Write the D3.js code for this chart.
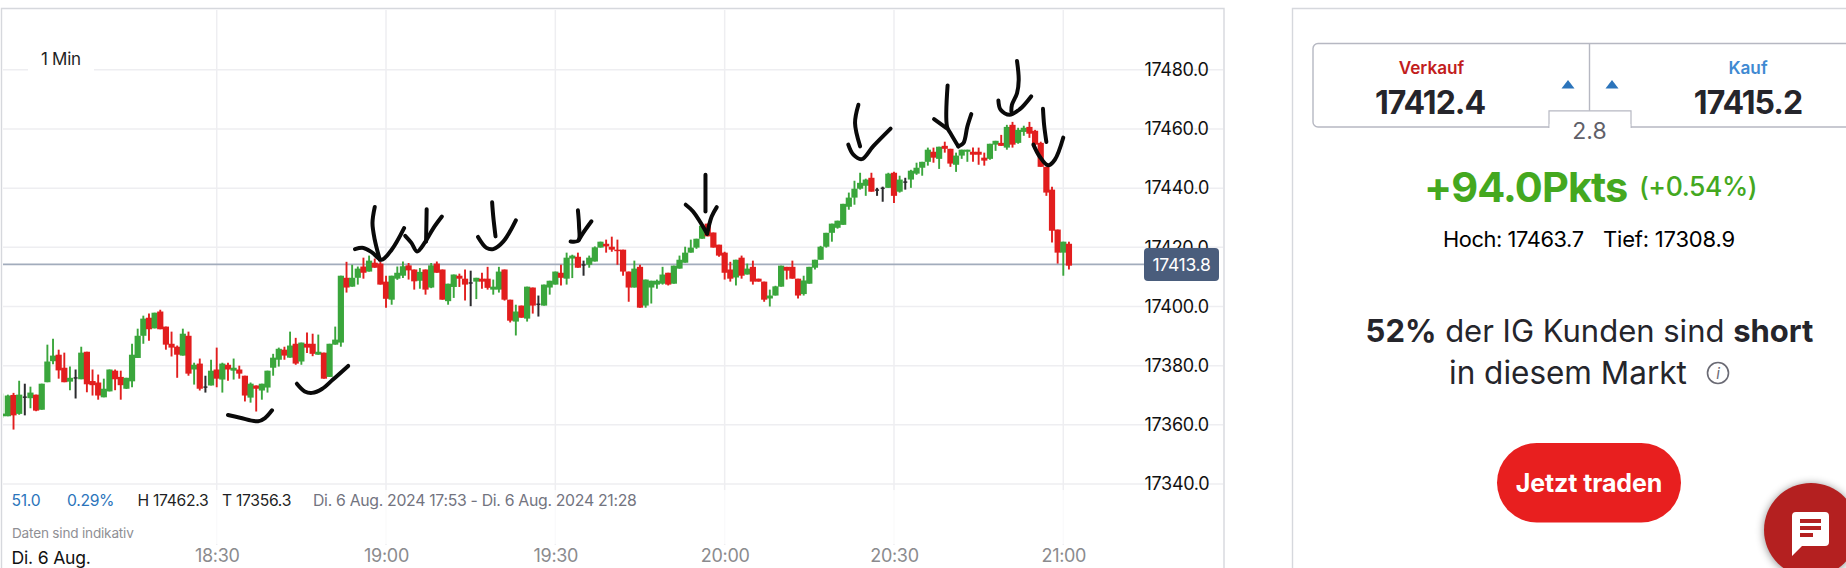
<!DOCTYPE html>
<html lang="de">
<head>
<meta charset="utf-8">
<title>1 Min Chart</title>
<script src="https://cdn.jsdelivr.net/npm/d3@7/dist/d3.min.js"></script>
<style>
html,body{margin:0;padding:0;background:#fff;overflow:hidden}
svg{display:block}
text{font-family:Inter,"Noto Sans",sans-serif}
</style>
</head>
<body>
<div id="chart"></div>
<script>
// ---- data -----------------------------------------------------------------
const firstCandle = "17:52";
const opens = [
17362.9,17362.9,17370.1,17363.7,17369.6,17369,17370.2,17365.1,17374.4,17381.5,
17383.7,17379.3,17374.6,17376.1,17375.4,17384.7,17374.8,17374.3,17369.3,17371.3,
17378.3,17376.2,17372.2,17374.7,17382.6,17390.1,17396.2,17392.6,17398.3,17393.2,
17387.4,17386.4,17383.4,17390.1,17378.7,17380.7,17373,17373.3,
17378.7,17375.3,17380.3,17378.3,17378.7,17376.6,17369.2,17373.3,17371.6,17372.6,
17379.3,17382,17385.4,17382.7,17387.4,17381.4,17387.4,17387.4,17383.7,17384.4,
17376.2,17387.1,17387.8,17409.7,17406.7,17409.7,17413.5,17411.8,17414.8,17414.5,
17408.4,17402.3,17409.4,
17410.4,17413.9,17412.5,17408.7,17412.5,17406.4,17414.5,17412.5,17401.8,17406.6,
17410.4,17409.4,17408.2,17408.4,17409.4,17409.4,17405.7,17405.7,17412.5,17402.3,
17394.9,17400.3,17395.9,17406.4,17401,17400.3,17406.4,17407.4,17411.4,17409.4,
17416.2,17416.8,17414.3,17414.1,17415.2,17419.9,17421.2,17420.2,17419.2,17419.2,
17411.8,17406.4,17413.4,17400.3,17406.4,17407.4,17407.7,17411.4,17407.7,17412.8,
17414.8,17418.2,17419.9,17422.9,17428,17425,17420.9,17418.2,
17412.5,17409.8,17416.5,17410.8,17413.4,17409.4,17408.4,17402.7,17403.7,17406.7,
17413.4,17413.4,17409.4,17404.2,17407.7,17413.1,17415.8,17420.2,17424.9,17426.6,
17427.6,17433.7,17436.8,17439.8,17440.8,17443.5,17439.6,17440.2,17440.1,17445.2,
17438.8,17442.3,17442.9,17444.9,17446.9,17448.9,17452.3,17449.9,17454.3,17453.3,
17447.9,17451,17452.3,17452.3,17452.3,17450.3,17449.9,17454.7,17455.3,17453.7,
17461.4,17455.3,17459,17460.7,17459.4,17455.3,17447.2,17439.5,17426,17418.2,17421.2];
const highs = [
17370.6,17370.2,17370.8,17374.9,17373.9,17372.9,17370.2,17373.9,17387.1,17389.1,
17385.4,17384.4,17379.7,17378.7,17386.4,17384.7,17378.7,17377,17375.6,17378.7,
17378.7,17378.3,17375.9,17387.4,17392.5,17396.9,17397.6,17397.9,17398.9,17393.2,
17391.5,17386.8,17392.5,17391.5,17381,17382.4,17376.6,17382,
17386.1,17381,17381,17382.4,17380,17376.6,17374.3,17373.3,17373.9,17378.3,
17384,17386.1,17386.4,17391.5,17389.4,17387.8,17391.2,17390.8,17390.5,17384.4,
17387.4,17393.2,17410.4,17415.1,17414.1,17413.5,17416.5,17417.2,17416.2,17415.1,
17410.4,17410.4,17413.5,
17415.2,17414.7,17412.5,17413,17412.5,17414.7,17415.2,17412.5,17407.7,17410.8,
17411.1,17412.5,17412.1,17409.7,17411.4,17413.4,17409.1,17413.4,17412.5,17402.3,
17400.6,17400.3,17406.7,17406.4,17403.7,17407.4,17408.7,17411.8,17414.1,17418.2,
17417.5,17418.2,17415.5,17417.2,17420.3,17421.9,17422.6,17423.6,17422.6,17419.2,
17411.8,17415.5,17414.1,17409.1,17408.7,17409.1,17413.4,17411.4,17413.8,17417.2,
17420.2,17422.6,17422.9,17427.3,17428,17425,17420.9,17418.5,
17415.1,17415.8,17417.2,17414.5,17415.5,17409.4,17408.4,17405.7,17407,17413.8,
17413.4,17415.5,17409.4,17410.4,17413.4,17415.8,17420.5,17424.9,17428,17429,
17434.7,17438.5,17442.5,17445.2,17443.2,17445.2,17440.1,17440.5,17445.2,17445.5,
17444.2,17443.5,17446.2,17448.6,17448.9,17453.7,17453.7,17454,17455.7,17453.3,
17452,17453,17453,17453.7,17453.7,17452,17455,17456,17458,17461.4,
17462.4,17460.4,17461.1,17462.4,17459.7,17455.7,17447.2,17440.5,17426,17421.9,17421.9];
const lows = [
17362.3,17362.9,17358.4,17363.4,17363.2,17365.6,17364.6,17365.1,17374.4,17380.5,
17375.6,17374.4,17371.7,17368.9,17375.4,17371,17369.9,17368.5,17369.3,17371.3,
17371.7,17368.5,17372.1,17372.7,17382.6,17387.4,17388.4,17392.6,17392.3,17385.4,
17383.1,17375.9,17383.4,17376.6,17373.6,17371.6,17370.9,17373.3,
17372.7,17370.9,17374.9,17375.3,17375.6,17367.9,17367.5,17364.5,17368.5,17370.9,
17376.6,17379.7,17382,17382.7,17380.3,17380.3,17384.3,17383.2,17383.7,17375.6,
17376.2,17387.1,17386.4,17404.7,17406.7,17407.4,17409.4,17411.8,17413.1,17407.4,
17399.6,17400.6,17409,
17409.6,17409.1,17405.7,17406,17404,17406.2,17411.4,17402.3,17400.6,17402.9,
17406.6,17402,17400.1,17402.5,17406,17405.7,17404,17404.7,17402,17394.6,
17390.2,17396.2,17394.9,17397.6,17396.6,17400.3,17404,17407.4,17407.1,17407.4,
17409.6,17413.1,17410.4,17413.1,17415.2,17419.9,17418.2,17418.5,17414.1,17410.4,
17401.6,17406.4,17399.6,17399.6,17401,17406,17407.4,17407.1,17407.7,17412.8,
17414.8,17418.2,17419.5,17422.9,17423.7,17419.9,17416.8,17409.1,
17408.4,17407.1,17409.4,17410.8,17407.4,17408.4,17401.6,17400,17403.7,17406.7,
17409.1,17409.4,17402.7,17403.7,17407.7,17412.5,17415.8,17419.9,17421.9,17426.3,
17427.6,17432.7,17434.4,17439.5,17437.4,17438.8,17437.4,17435.4,17440.1,17435,
17438.5,17439.5,17440.1,17444.5,17444.2,17447.6,17448.6,17446.5,17452,17447.2,
17445.5,17449.9,17448.9,17448.9,17447.9,17447.6,17449.6,17452.6,17454.3,17453,
17453.7,17455,17457.7,17457,17454.3,17447.2,17437.4,17421.6,17414.5,17410.4,17412.5];
const closes = [
17363.8,17369.9,17363.2,17370.2,17369.6,17370.9,17364.8,17373.9,17381.4,17383.4,
17378.4,17374.4,17375.9,17376.1,17384.4,17373.7,17373.4,17369.9,17372.2,17378.7,
17375.4,17373.4,17375.9,17383.7,17390.1,17395.9,17392.3,17397.9,17392.3,17387.1,
17386.1,17383.7,17390.8,17377.3,17380.3,17372.2,17373,17378.3,
17375.6,17380.7,17378.7,17379.3,17377.3,17369.9,17373.9,17372.2,17373.9,17378.3,
17382.7,17385.7,17383.4,17386.8,17380.7,17387.8,17386.1,17384,17384.7,17375.6,
17387.4,17388.8,17410.4,17406.4,17409.7,17412.8,17411.4,17415.5,17413.1,17407.4,
17402.6,17410.4,17411.4,
17413.6,17412.2,17408.5,17411.7,17405.7,17413.9,17411.4,17402.3,17407.7,17410.8,
17409.4,17407.4,17408.2,17409.7,17408.4,17406.3,17406.7,17411.8,17402.3,17395.2,
17398.3,17396.2,17406.7,17400.3,17401,17407.4,17408.7,17411.8,17409.7,17416.5,
17417.2,17413.1,17414.3,17416.5,17420,17421.9,17420.3,17419.2,17418.9,17411.8,
17406.4,17412.8,17399.6,17409.1,17408.7,17408.7,17410.8,17407.4,17413.8,17415.8,
17418.2,17419.9,17422.9,17427.3,17423.7,17419.9,17417.2,17411.4,
17409.4,17415.8,17410.4,17412.8,17408.4,17408.4,17402.3,17403.7,17406.8,17413.8,
17412.1,17409.4,17403.7,17408.8,17413.4,17415.8,17420.2,17424.9,17428,17429,
17434.7,17436.8,17439.8,17441.8,17442.9,17438.8,17439.6,17440.2,17444.9,17437.4,
17442.9,17442.3,17445.9,17446.9,17448.9,17453,17450.3,17454,17453.3,17448.3,
17451,17453,17453,17451.3,17451.3,17449.3,17455,17456,17454.3,17460.7,
17454.7,17459.7,17460.4,17458.4,17454.7,17447.2,17438.5,17425.6,17418.2,17421.9,17413.8];

const priceTicks = [17340,17360,17380,17400,17420,17440,17460,17480];
const timeTicks = ["18:30","19:00","19:30","20:00","20:30","21:00"];
const lastPrice = 17414.2;
const lastPriceLabel = "17413.8";
const intervalLabel = "1 Min";
const statValues = {points:"51.0", percent:"0.29%", high:"H 17462.3", low:"T 17356.3"};
const statRange = "Di. 6 Aug. 2024 17:53 - Di. 6 Aug. 2024 21:28";

// hand-drawn ink strokes over the chart: [minutes after 18:30, price]
const inkStrokes = [
 [[2,17363.3],[4.13,17362.4],[7.32,17361.2],[8.56,17362.3],[9.8,17364.9]],
 [[14.2,17373.9],[15.6,17371.3],[16.9,17370.8],[18.65,17372.1],[20.6,17375.3],[23.3,17379.9]],
 [[28,17433.6],[27.6,17428.2],[28,17422.6],[28.9,17415.8]],
 [[24.5,17419.4],[26,17419.8],[27.5,17418.3],[29.2,17415.8],[31,17419.2],[33.2,17426.5]],
 [[33.4,17423.9],[34.5,17421.5],[35.5,17418.6],[36.9,17421.7],[38.4,17426.5],[39.9,17430.4]],
 [[37.2,17432.9],[37.1,17422]],
 [[48.8,17435.2],[49,17430.4],[49.4,17423.7]],
 [[46.3,17423.5],[47.8,17419.8],[49,17419.4],[50.8,17422],[53,17429.1]],
 [[64,17432.5],[64.2,17427.1],[64.1,17422.3],[62.7,17422]],
 [[64.1,17422.3],[64.9,17424.8],[66.4,17428.8]],
 [[86.6,17444.5],[86.6,17432.1]],
 [[83.1,17434.4],[84.4,17432.1],[86.9,17424.6]],
 [[86.9,17424.6],[87.7,17430.4],[88.6,17433.6]],
 [[113.7,17468.2],[113.1,17462],[114,17454.1]],
 [[111.9,17454.7],[112.8,17451.3],[114.3,17449.8],[116.3,17454.1],[119.4,17460.1]],
 [[129.5,17474.7],[129.4,17460.8],[130,17458.6],[131.4,17454.1]],
 [[127.1,17463.3],[129.3,17460.3]],
 [[131.4,17454.1],[132.3,17455.2],[133,17460.8],[133.7,17465]],
 [[141.8,17483],[142.1,17476.6],[141.8,17472.1],[140.9,17468.2],[140.8,17465.9]],
 [[138.5,17469.6],[138.9,17466.5],[140.5,17464.8],[142.3,17466.7],[144.3,17471]],
 [[146.4,17466.8],[146.6,17461.4],[147,17455.6]],
 [[144.7,17454.7],[145.8,17450.7],[147.3,17447.7],[148.5,17449.6],[150,17457.1]]
];

// ---- page ------------------------------------------------------------------
const W = 1846, H = 568;
const GREEN = "#3aa63c", RED = "#e21e1e", DOJI = "#2b2b2e";
const svg = d3.select("#chart").append("svg").attr("width", W).attr("height", H);
const parse = d3.timeParse("%H:%M");
const at = s => parse(s);
const plusMin = (d, m) => new Date(d.getTime() + m * 60000);

const x = d3.scaleTime().domain([at("18:30"), at("21:00")]).range([216.7, 1063.3]);
const y = d3.scaleLinear().domain([17340, 17480]).range([484, 69.8]);

// frames
svg.append("path").attr("d", "M1.5,568V8.5H1224V568").attr("fill", "none").attr("stroke", "#d6d8dd").attr("stroke-width", 1.4);
svg.append("path").attr("d", "M1846,8.5H1292.5V568").attr("fill", "none").attr("stroke", "#d6d8dd").attr("stroke-width", 1.4);

svg.append("defs").append("clipPath").attr("id", "plot").append("rect")
  .attr("x", 3).attr("y", 9).attr("width", 1220).attr("height", 540);

// grid
const grid = svg.append("g").attr("stroke", "#eeeef1").attr("stroke-width", 1.5);
grid.selectAll("line.h").data(priceTicks).join("line").attr("class", "h")
  .attr("x1", 3).attr("x2", 1223).attr("y1", d => y(d)).attr("y2", d => y(d));
grid.selectAll("line.v").data(timeTicks).join("line").attr("class", "v")
  .attr("x1", d => x(at(d))).attr("x2", d => x(at(d))).attr("y1", 10).attr("y2", 545);

// white strip behind interval label and stats
svg.append("rect").attr("x", 28).attr("y", 48).attr("width", 66).attr("height", 23.5).attr("fill", "#fff");
svg.append("rect").attr("x", 3).attr("y", 490).attr("width", 1140).attr("height", 54).attr("fill", "#fff").attr("opacity", .72);

// last price line
svg.append("line").attr("x1", 3).attr("x2", 1150).attr("y1", y(lastPrice)).attr("y2", y(lastPrice))
  .attr("stroke", "#a2acbc").attr("stroke-width", 1.7);

// candles
const candles = opens.map((o, i) => ({t: plusMin(at(firstCandle), i), o, h: highs[i], l: lows[i], c: closes[i]}));
const color = d => d.c > d.o ? GREEN : d.c < d.o ? RED : DOJI;
const g = svg.append("g").attr("clip-path", "url(#plot)");
g.selectAll("line.wick").data(candles).join("line").attr("class", "wick")
  .attr("x1", d => x(d.t)).attr("x2", d => x(d.t))
  .attr("y1", d => y(d.h)).attr("y2", d => y(d.l))
  .attr("stroke", color).attr("stroke-width", d => d.c === d.o ? 2 : 1.9);
g.selectAll("rect.body").data(candles).join("rect").attr("class", "body")
  .attr("x", d => x(d.t) - (d.c === d.o ? 2 : 3.1)).attr("width", d => d.c === d.o ? 4 : 6.2)
  .attr("y", d => y(Math.max(d.o, d.c)))
  .attr("height", d => Math.max(1.5, y(Math.min(d.o, d.c)) - y(Math.max(d.o, d.c))))
  .attr("fill", color);

// axes
const yAxis = d3.axisRight(y).tickValues(priceTicks.slice(1).reverse().concat([17340])).tickSize(0).tickPadding(0)
  .tickFormat(d3.format(".1f"));
const ya = svg.append("g").attr("transform", "translate(1144.5,0)").call(yAxis);
ya.select(".domain").remove();
ya.selectAll("text").attr("font-size", 18).attr("fill", "#111").attr("font-family", "Inter").attr("letter-spacing", -0.3);

const xAxis = d3.axisBottom(x).tickValues(timeTicks.map(at)).tickSize(0).tickPadding(0).tickFormat(d3.timeFormat("%H:%M"));
const xa = svg.append("g").attr("transform", "translate(0,549)").call(xAxis);
xa.select(".domain").remove();
xa.selectAll("text").attr("font-size", 18).attr("fill", "#8b8b8e").attr("font-family", "Inter").attr("letter-spacing", -0.3);

// last price tag
svg.append("rect").attr("x", 1144).attr("y", 248).attr("width", 75).attr("height", 33).attr("rx", 4).attr("fill", "#4a5d7c");
svg.append("text").attr("x", 1181.5).attr("y", 271).attr("text-anchor", "middle").attr("fill", "#fff")
  .attr("font-size", 17.5).attr("letter-spacing", -0.3).text(lastPriceLabel);

// ink
const ink = d3.line().x(p => x(plusMin(at("18:30"), p[0]))).y(p => y(p[1])).curve(d3.curveCatmullRom.alpha(.5));
svg.append("g").selectAll("path").data(inkStrokes).join("path").attr("d", ink)
  .attr("fill", "none").attr("stroke", "#0a0a0a").attr("stroke-width", 4)
  .attr("stroke-linecap", "round").attr("stroke-linejoin", "round");

// chart texts
function label(txt, px, py, size, fill, opt = {}) {
  return svg.append("text").attr("x", px).attr("y", py).attr("font-size", size).attr("fill", fill)
    .attr("text-anchor", opt.anchor || "start").attr("font-weight", opt.weight || 400)
    .attr("letter-spacing", opt.ls || 0).text(txt);
}
label(intervalLabel, 41, 65, 17, "#1f1f24", {ls: -0.3});
label(statValues.points, 11.5, 506, 15.7, "#2b74bb", {ls: -0.3});
label(statValues.percent, 67, 506, 15.7, "#2b74bb", {ls: -0.3});
label(statValues.high, 137.5, 506, 15.7, "#1f1f24", {ls: -0.3});
label(statValues.low, 222, 506, 15.7, "#1f1f24", {ls: -0.3});
label(statRange, 313, 506, 15.8, "#73747f", {ls: -0.3});
label("Daten sind indikativ", 12, 538, 13.6, "#8f8f94", {ls: -0.2});
label("Di. 6 Aug.", 11.5, 564, 17.6, "#111", {ls: -0.2});

// right panel
svg.append("path").attr("d", "M1860,43.5H1318a5,5 0 0 0 -5,5V122a5,5 0 0 0 5,5H1860")
  .attr("fill", "none").attr("stroke", "#b6b8c2").attr("stroke-width", 1.4);
svg.append("line").attr("x1", 1589.5).attr("x2", 1589.5).attr("y1", 43).attr("y2", 111).attr("stroke", "#b6b8c2").attr("stroke-width", 1.4);
svg.append("path").attr("d", "M1549,128V110.8H1631V128").attr("fill", "#fff").attr("stroke", "#b6b8c2").attr("stroke-width", 1.2);
svg.append("rect").attr("x", 1549.7).attr("y", 124).attr("width", 80.6).attr("height", 5).attr("fill", "#fff");
svg.append("path").attr("d", "M1561.5,88.5l6.5,-8.5l6.5,8.5Z").attr("fill", "#2b74bb");
svg.append("path").attr("d", "M1605.5,88.5l6.5,-8.5l6.5,8.5Z").attr("fill", "#2b74bb");

label("Verkauf", 1431.5, 74, 17.2, "#c21d1d", {anchor: "middle", weight: 600});
label("Kauf", 1748, 74, 17.2, "#3f8ad2", {anchor: "middle", weight: 600});
label("17412.4", 1430, 114, 32, "#25252b", {anchor: "middle", weight: 700, ls: -1});
label("17415.2", 1748, 114, 32, "#25252b", {anchor: "middle", weight: 700, ls: -1});
label("2.8", 1589.5, 139, 23, "#5f6069", {anchor: "middle"});

label("+94.0Pkts", 1424, 202, 41.5, "#44a81f", {weight: 700, ls: -0.9});
label("(+0.54%)", 1639, 196, 26.5, "#44a81f", {weight: 500, ls: -0.4});
label("Hoch: 17463.7", 1443, 246.5, 21.8, "#000", {ls: -0.4});
label("Tief: 17308.9", 1603, 246.5, 22, "#000", {ls: -0.2});

const t1 = svg.append("text").attr("x", 1589.5).attr("y", 342).attr("text-anchor", "middle").attr("font-size", 31).attr("fill", "#25252b");
t1.append("tspan").attr("font-weight", 700).text("52%");
t1.append("tspan").text(" der IG Kunden sind ");
t1.append("tspan").attr("font-weight", 700).text("short");
label("in diesem Markt", 1449, 384, 31.5, "#25252b");
svg.append("circle").attr("cx", 1718).attr("cy", 373).attr("r", 10.5).attr("fill", "none").attr("stroke", "#6a6a74").attr("stroke-width", 1.6);
svg.append("text").attr("x", 1718).attr("y", 379).attr("text-anchor", "middle").attr("font-size", 15).attr("font-style", "italic").attr("fill", "#6a6a74").text("i");

svg.append("rect").attr("x", 1497).attr("y", 443).attr("width", 184).attr("height", 79.5).attr("rx", 39.7).attr("fill", "#e81f1f");
label("Jetzt traden", 1589, 492, 25, "#fff", {anchor: "middle", weight: 700, ls: -0.1});

const chat = svg.append("g");
chat.append("circle").attr("cx", 1811).attr("cy", 530).attr("r", 47).attr("fill", "#b42020")
  .style("filter", "drop-shadow(0 1px 4px rgba(0,0,0,.45))");
chat.append("path").attr("d", "M1796,512h29a4,4 0 0 1 4,4v26a4,4 0 0 1 -4,4h-23l-10,10v-40a4,4 0 0 1 4,-4Z").attr("fill", "#fff");
chat.append("g").attr("fill", "#b42020").selectAll("rect").data([[519, 21], [526, 21], [533, 13]]).join("rect")
  .attr("x", 1800).attr("y", d => d[0]).attr("width", d => d[1]).attr("height", 4);
</script>
</body>
</html>
